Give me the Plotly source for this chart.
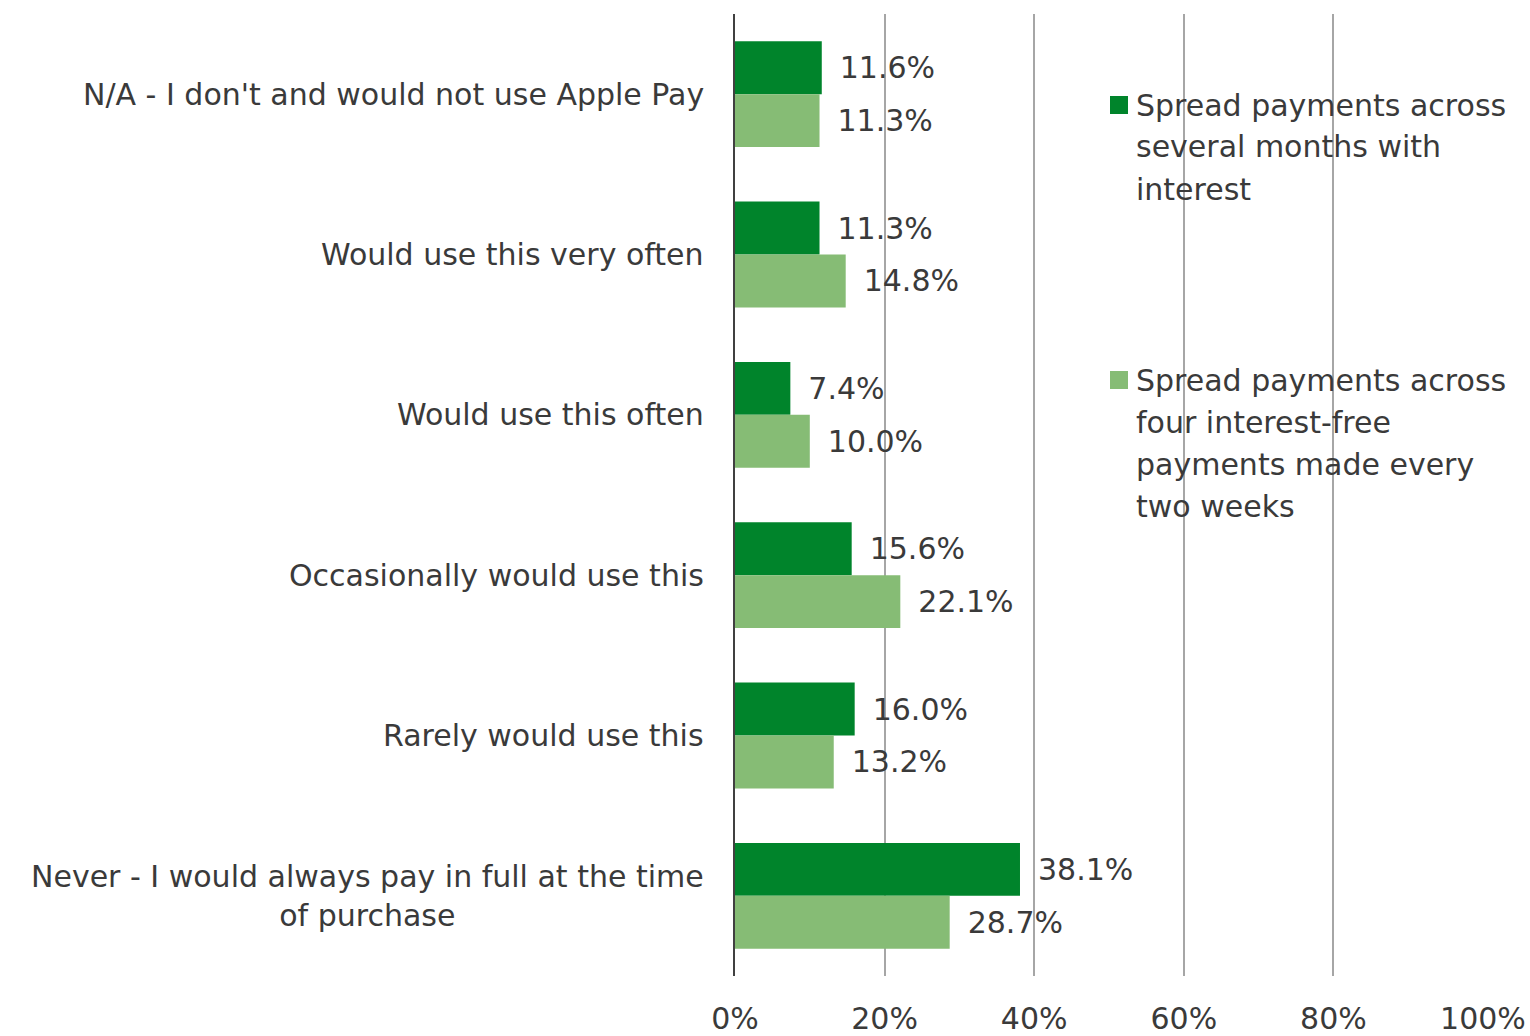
import plotly.graph_objects as go

# Survey responses: how often people would use each Apple Pay instalment option
categories = [
    "N/A - I don't and would not use Apple Pay",
    "Would use this very often",
    "Would use this often",
    "Occasionally would use this",
    "Rarely would use this",
    "Never - I would always pay in full at the time<br>of purchase",
]
monthly_interest = [11.6, 11.3, 7.4, 15.6, 16.0, 38.1]
four_interest_free = [11.3, 14.8, 10.0, 22.1, 13.2, 28.7]

series_names = [
    ["Spread payments across", "several months with", "interest"],
    ["Spread payments across", "four interest-free", "payments made every", "two weeks"],
]
tick_values = [0, 20, 40, 60, 80, 100]
tick_labels = ["0%", "20%", "40%", "60%", "80%", "100%"]

DARK = "#00842B"
LIGHT = "#86BC75"
TEXT = "#3A3A3A"
FONT = "DejaVu Sans, sans-serif"
SIZE = 30

fig = go.Figure()
for vals, color in [(monthly_interest, DARK), (four_interest_free, LIGHT)]:
    fig.add_trace(go.Bar(
        y=categories, x=vals, orientation="h",
        marker=dict(color=color, line=dict(width=0)),
        text=[f"\u2002{v:.1f}%" for v in vals],
        textposition="outside", constraintext="none", cliponaxis=False,
        textfont=dict(family=FONT, size=SIZE, color=TEXT),
        showlegend=False, hoverinfo="skip",
    ))

# Category labels, right-aligned against the axis, wrapped lines centred
annotations = []
for cat in categories:
    annotations.append(dict(
        x=0, xref="paper", y=cat, yref="y", text=cat, showarrow=False,
        xanchor="right", yanchor="middle", xshift=-29, align="center",
        font=dict(family=FONT, size=SIZE, color=TEXT),
    ))

# Legend drawn as coloured squares with wrapped labels
legend_tops = [105, 380]
line_gap = 42
for names, color, top in zip(series_names, [DARK, LIGHT], legend_tops):
    fig.add_shape(type="rect", xref="paper", yref="paper",
                  x0=(1110 - 735) / 748, x1=(1128 - 735) / 748,
                  y0=1 - (top + 9 - 14) / 962, y1=1 - (top - 9 - 14) / 962,
                  fillcolor=color, line=dict(width=0), layer="above")
    for i, line in enumerate(names):
        yc = top + i * line_gap
        annotations.append(dict(
            x=(1134 - 735) / 748, xref="paper", y=1 - (yc - 14) / 962, yref="paper",
            text=line, showarrow=False, xanchor="left", yanchor="middle",
            font=dict(family=FONT, size=SIZE, color=TEXT),
        ))

fig.update_layout(
    width=1530, height=1036,
    margin=dict(l=735, r=47, t=14, b=60, autoexpand=False),
    paper_bgcolor="white", plot_bgcolor="white",
    barmode="group", bargap=0.34, bargroupgap=0,
    annotations=annotations,
    font=dict(family=FONT, size=SIZE, color=TEXT),
    xaxis=dict(
        range=[0, 100], tickvals=tick_values, ticktext=tick_labels,
        showgrid=True, gridcolor="#A6A6A6", gridwidth=2,
        zeroline=False, showline=False, ticks="",
        ticklabelstandoff=22, automargin=False,
        tickfont=dict(family=FONT, size=SIZE, color=TEXT),
    ),
    yaxis=dict(
        autorange="reversed", showticklabels=False, ticks="",
        showgrid=False, zeroline=False, automargin=False,
        showline=True, linecolor="#404040", linewidth=2,
    ),
)

fig.write_html("out.html")
